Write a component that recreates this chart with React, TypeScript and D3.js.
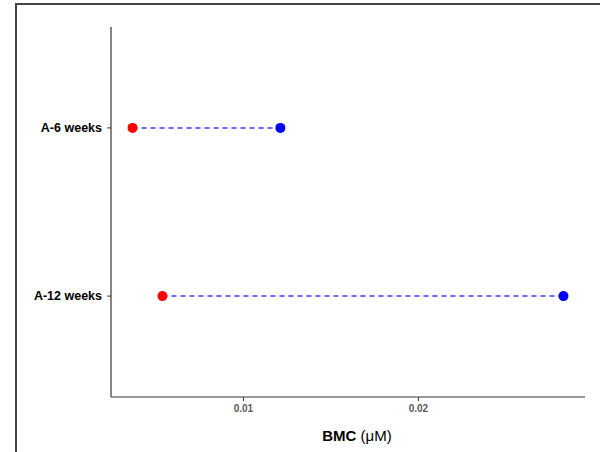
import React from 'react';
import * as d3 from 'd3';

const categories = ['A-12 weeks', 'A-6 weeks'];
const startValues = [0.00537, 0.00366];
const endValues = [0.02829, 0.01211];
const xTicks = [0.01, 0.02];

const width = 600;
const height = 452;

export default function App() {
  const left = 111;
  const right = 585;
  const top = 27;
  const bottom = 397;

  const all = [...startValues, ...endValues];
  const lo = d3.min(all) as number;
  const hi = d3.max(all) as number;
  const pad = (hi - lo) * 0.05;
  const x = d3.scaleLinear().domain([lo - pad, hi + pad]).range([left, right]);
  // discrete axis, ggplot style: positions 1..n with 0.6 added each side
  const y = d3.scaleLinear().domain([0.4, categories.length + 0.6]).range([bottom, top]);

  return (
    <svg width={width} height={height} style={{ position: 'absolute', left: 0, top: 0, display: 'block' }}>
      <rect x={0} y={0} width={width} height={height} fill="#fff" />
      <rect x={16} y={4} width={800} height={800} fill="none" stroke="#444" strokeWidth={2} />

      {/* axes */}
      <line x1={left} x2={left} y1={top} y2={bottom} stroke="#333" strokeWidth={1.2} />
      <line x1={left} x2={right} y1={bottom} y2={bottom} stroke="#333" strokeWidth={1.2} />

      {categories.map((c, i) => (
        <g key={c}>
          <line x1={left - 4} x2={left} y1={y(i + 1)} y2={y(i + 1)} stroke="#333" strokeWidth={1} />
          <text x={left - 9} y={y(i + 1)} dy="0.35em" textAnchor="end"
            fontFamily="Liberation Sans, Arial, sans-serif" fontWeight="bold" fontSize={12.5} fill="#000">
            {c}
          </text>
        </g>
      ))}

      {xTicks.map((t) => (
        <g key={t}>
          <line x1={x(t)} x2={x(t)} y1={bottom} y2={bottom + 4} stroke="#333" strokeWidth={1} />
          <text x={x(t)} y={bottom + 15} textAnchor="middle"
            fontFamily="Liberation Sans, Arial, sans-serif" fontSize={10} fontWeight="bold" fill="#5a5a5a">
            {d3.format('.2f')(t)}
          </text>
        </g>
      ))}

      <text x={(left + right) / 2 + 9} y={441} textAnchor="middle"
        fontFamily="Liberation Sans, Arial, sans-serif" fontSize={15} fill="#000">
        <tspan fontWeight="bold">BMC</tspan>
        <tspan> (μM)</tspan>
      </text>

      {categories.map((c, i) => (
        <g key={'d' + c}>
          <line x1={x(startValues[i])} x2={x(endValues[i])} y1={y(i + 1)} y2={y(i + 1)}
            stroke="#6b6bff" strokeWidth={2} strokeDasharray="5,4" />
          <circle cx={x(startValues[i])} cy={y(i + 1)} r={5} fill="#ff0000" />
          <circle cx={x(endValues[i])} cy={y(i + 1)} r={5} fill="#0000ff" />
        </g>
      ))}
    </svg>
  );
}
